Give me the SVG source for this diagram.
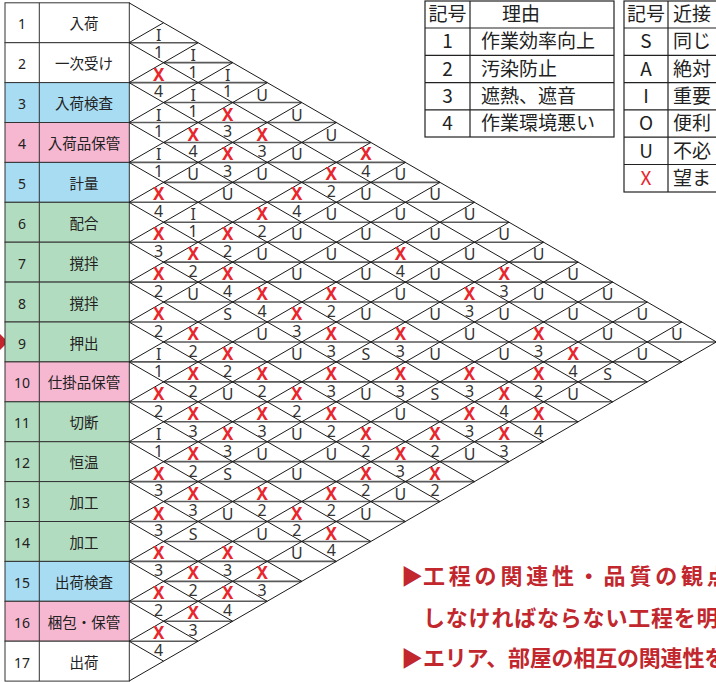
<svg xmlns="http://www.w3.org/2000/svg" width="716" height="682" viewBox="0 0 716 682">
<style>
.bg{fill:#ffffff}
.row{stroke:#333;stroke-width:1}
.w{fill:#ffffff}.b{fill:#a7dcf3}.p{fill:#f6b7d1}.g{fill:#b2dcbf}
.num{font-family:"Noto Sans","Liberation Sans",sans-serif;font-size:14px;fill:#222;text-anchor:middle}
.nm{font-family:"Noto Sans CJK JP","Noto Sans",sans-serif;font-size:14.5px;fill:#222;text-anchor:middle}
.diag{fill:none;stroke:#1a1a1a;stroke-width:1}
.mid{fill:none;stroke:#5a5a5a;stroke-width:1.6}
.t{font-family:"Noto Sans","Liberation Sans",sans-serif;font-size:16px;fill:#333;text-anchor:middle}
.x{font-family:"Noto Sans","Liberation Sans",sans-serif;font-size:17px;font-weight:bold;fill:#e8262d;text-anchor:middle}
.tb{fill:#fff;stroke:#222;stroke-width:1.2}
.lg{font-family:"Noto Sans CJK JP","Noto Sans",sans-serif;font-size:19px;fill:#222}
.lc{text-anchor:middle}
.note{font-family:"Noto Sans CJK JP","Noto Sans",sans-serif;font-size:22px;font-weight:bold;fill:#c1272d}
</style>
<rect class="bg" x="0" y="0" width="716" height="682"/>

<polygon id="marker-row9" points="0,334 8,342 0,350" fill="#c1272d"/>

<g id="labels">
<g id="row1"><rect class="row w" x="5" y="2.8" width="124.3" height="39.9"/><line class="row" x1="39.3" y1="2.8" x2="39.3" y2="42.7"/><text class="num" x="22" y="29.3">1</text><text class="nm" x="84" y="29.3">入荷</text></g>
<g id="row2"><rect class="row w" x="5" y="42.7" width="124.3" height="39.9"/><line class="row" x1="39.3" y1="42.7" x2="39.3" y2="82.6"/><text class="num" x="22" y="69.2">2</text><text class="nm" x="84" y="69.2">一次受け</text></g>
<g id="row3"><rect class="row b" x="5" y="82.6" width="124.3" height="39.9"/><line class="row" x1="39.3" y1="82.6" x2="39.3" y2="122.5"/><text class="num" x="22" y="109.1">3</text><text class="nm" x="84" y="109.1">入荷検査</text></g>
<g id="row4"><rect class="row p" x="5" y="122.5" width="124.3" height="39.9"/><line class="row" x1="39.3" y1="122.5" x2="39.3" y2="162.4"/><text class="num" x="22" y="149">4</text><text class="nm" x="84" y="149">入荷品保管</text></g>
<g id="row5"><rect class="row b" x="5" y="162.4" width="124.3" height="39.9"/><line class="row" x1="39.3" y1="162.4" x2="39.3" y2="202.3"/><text class="num" x="22" y="188.9">5</text><text class="nm" x="84" y="188.9">計量</text></g>
<g id="row6"><rect class="row g" x="5" y="202.3" width="124.3" height="39.9"/><line class="row" x1="39.3" y1="202.3" x2="39.3" y2="242.2"/><text class="num" x="22" y="228.8">6</text><text class="nm" x="84" y="228.8">配合</text></g>
<g id="row7"><rect class="row g" x="5" y="242.2" width="124.3" height="39.9"/><line class="row" x1="39.3" y1="242.2" x2="39.3" y2="282.1"/><text class="num" x="22" y="268.7">7</text><text class="nm" x="84" y="268.7">撹拌</text></g>
<g id="row8"><rect class="row g" x="5" y="282.1" width="124.3" height="39.9"/><line class="row" x1="39.3" y1="282.1" x2="39.3" y2="322"/><text class="num" x="22" y="308.6">8</text><text class="nm" x="84" y="308.6">撹拌</text></g>
<g id="row9"><rect class="row g" x="5" y="322" width="124.3" height="39.9"/><line class="row" x1="39.3" y1="322" x2="39.3" y2="361.9"/><text class="num" x="22" y="348.5">9</text><text class="nm" x="84" y="348.5">押出</text></g>
<g id="row10"><rect class="row p" x="5" y="361.9" width="124.3" height="39.9"/><line class="row" x1="39.3" y1="361.9" x2="39.3" y2="401.8"/><text class="num" x="22" y="388.4">10</text><text class="nm" x="84" y="388.4">仕掛品保管</text></g>
<g id="row11"><rect class="row g" x="5" y="401.8" width="124.3" height="39.9"/><line class="row" x1="39.3" y1="401.8" x2="39.3" y2="441.7"/><text class="num" x="22" y="428.3">11</text><text class="nm" x="84" y="428.3">切断</text></g>
<g id="row12"><rect class="row g" x="5" y="441.7" width="124.3" height="39.9"/><line class="row" x1="39.3" y1="441.7" x2="39.3" y2="481.6"/><text class="num" x="22" y="468.2">12</text><text class="nm" x="84" y="468.2">恒温</text></g>
<g id="row13"><rect class="row g" x="5" y="481.6" width="124.3" height="39.9"/><line class="row" x1="39.3" y1="481.6" x2="39.3" y2="521.5"/><text class="num" x="22" y="508.1">13</text><text class="nm" x="84" y="508.1">加工</text></g>
<g id="row14"><rect class="row g" x="5" y="521.5" width="124.3" height="39.9"/><line class="row" x1="39.3" y1="521.5" x2="39.3" y2="561.4"/><text class="num" x="22" y="548">14</text><text class="nm" x="84" y="548">加工</text></g>
<g id="row15"><rect class="row b" x="5" y="561.4" width="124.3" height="39.9"/><line class="row" x1="39.3" y1="561.4" x2="39.3" y2="601.3"/><text class="num" x="22" y="587.9">15</text><text class="nm" x="84" y="587.9">出荷検査</text></g>
<g id="row16"><rect class="row p" x="5" y="601.3" width="124.3" height="39.9"/><line class="row" x1="39.3" y1="601.3" x2="39.3" y2="641.2"/><text class="num" x="22" y="627.8">16</text><text class="nm" x="84" y="627.8">梱包・保管</text></g>
<g id="row17"><rect class="row w" x="5" y="641.2" width="124.3" height="39.9"/><line class="row" x1="39.3" y1="641.2" x2="39.3" y2="681.1"/><text class="num" x="22" y="667.7">17</text><text class="nm" x="84" y="667.7">出荷</text></g>
</g>

<g id="connectors">
<path class="mid" d="M129 42.7H198.1M163.55 62.65H232.65M129 82.6H267.2M163.55 102.55H301.75M129 122.5H336.3M163.55 142.45H370.85M129 162.4H405.4M163.55 182.35H439.95M129 202.3H474.5M163.55 222.25H509.05M129 242.2H543.6M163.55 262.15H578.15M129 282.1H612.7M163.55 302.05H647.25M129 322H681.8M163.55 341.95H716.35M129 361.9H681.8M163.55 381.85H647.25M129 401.8H612.7M163.55 421.75H578.15M129 441.7H543.6M163.55 461.65H509.05M129 481.6H474.5M163.55 501.55H439.95M129 521.5H405.4M163.55 541.45H370.85M129 561.4H336.3M163.55 581.35H301.75M129 601.3H267.2M163.55 621.25H232.65M129 641.2H198.1"/>
<path class="diag" d="M129 2.8L716.35 341.95M129 42.7L681.8 361.9M129 82.6L647.25 381.85M129 122.5L612.7 401.8M129 162.4L578.15 421.75M129 202.3L543.6 441.7M129 242.2L509.05 461.65M129 282.1L474.5 481.6M129 322L439.95 501.55M129 361.9L405.4 521.5M129 401.8L370.85 541.45M129 441.7L336.3 561.4M129 481.6L301.75 581.35M129 521.5L267.2 601.3M129 561.4L232.65 621.25M129 601.3L198.1 641.2M129 641.2L163.55 661.15"/>
<path class="diag" d="M129 42.7L163.55 22.75M129 82.6L198.1 42.7M129 122.5L232.65 62.65M129 162.4L267.2 82.6M129 202.3L301.75 102.55M129 242.2L336.3 122.5M129 282.1L370.85 142.45M129 322L405.4 162.4M129 361.9L439.95 182.35M129 401.8L474.5 202.3M129 441.7L509.05 222.25M129 481.6L543.6 242.2M129 521.5L578.15 262.15M129 561.4L612.7 282.1M129 601.3L647.25 302.05M129 641.2L681.8 322M129 681.1L716.35 341.95"/>
</g>

<g id="cells">
<text class="t" x="158.6" y="40.7">I</text>
<text class="t" x="158.6" y="57.5">1</text><text class="t" x="193.1" y="60.7">I</text>
<text class="x" x="158.6" y="80.6">X</text><text class="t" x="193.1" y="77.5">1</text><text class="t" x="227.7" y="80.6">I</text>
<text class="t" x="158.6" y="97.4">4</text><text class="t" x="193.1" y="100.6">I</text><text class="t" x="227.7" y="97.4">1</text><text class="t" x="262.2" y="100.6">U</text>
<text class="t" x="158.6" y="120.5">I</text><text class="t" x="193.1" y="117.4">1</text><text class="x" x="227.7" y="120.5">X</text><text class="t" x="296.8" y="120.5">U</text>
<text class="t" x="158.6" y="137.3">1</text><text class="x" x="193.1" y="140.5">X</text><text class="t" x="227.7" y="137.3">3</text><text class="x" x="262.2" y="140.5">X</text><text class="t" x="331.3" y="140.5">U</text>
<text class="t" x="158.6" y="160.4">I</text><text class="t" x="193.1" y="157.3">4</text><text class="x" x="227.7" y="160.4">X</text><text class="t" x="262.2" y="157.3">3</text><text class="t" x="296.8" y="160.4">U</text><text class="x" x="365.9" y="160.4">X</text>
<text class="t" x="158.6" y="177.2">1</text><text class="t" x="193.1" y="180.4">U</text><text class="t" x="227.7" y="177.2">3</text><text class="t" x="262.2" y="180.4">U</text><text class="x" x="331.3" y="180.4">X</text><text class="t" x="365.9" y="177.2">4</text><text class="t" x="400.4" y="180.4">U</text>
<text class="x" x="158.6" y="200.3">X</text><text class="t" x="227.7" y="200.3">U</text><text class="x" x="296.8" y="200.3">X</text><text class="t" x="331.3" y="197.2">2</text><text class="t" x="365.9" y="200.3">U</text><text class="t" x="435" y="200.3">U</text>
<text class="t" x="158.6" y="217.1">4</text><text class="t" x="193.1" y="220.3">I</text><text class="x" x="262.2" y="220.3">X</text><text class="t" x="296.8" y="217.1">4</text><text class="t" x="331.3" y="220.3">U</text><text class="t" x="400.4" y="220.3">U</text><text class="t" x="469.5" y="220.3">U</text>
<text class="x" x="158.6" y="240.2">X</text><text class="t" x="193.1" y="237.1">1</text><text class="x" x="227.7" y="240.2">X</text><text class="t" x="262.2" y="237.1">2</text><text class="t" x="296.8" y="240.2">U</text><text class="t" x="365.9" y="240.2">U</text><text class="t" x="435" y="240.2">U</text><text class="t" x="504.1" y="240.2">U</text>
<text class="t" x="158.6" y="257">3</text><text class="x" x="193.1" y="260.2">X</text><text class="t" x="227.7" y="257">2</text><text class="t" x="262.2" y="260.2">U</text><text class="t" x="331.3" y="260.2">U</text><text class="x" x="400.4" y="260.2">X</text><text class="t" x="469.5" y="260.2">U</text><text class="t" x="538.6" y="260.2">U</text>
<text class="x" x="158.6" y="280.1">X</text><text class="t" x="193.1" y="277">2</text><text class="x" x="227.7" y="280.1">X</text><text class="t" x="296.8" y="280.1">U</text><text class="t" x="365.9" y="280.1">U</text><text class="t" x="400.4" y="277">4</text><text class="t" x="435" y="280.1">U</text><text class="x" x="504.1" y="280.1">X</text><text class="t" x="573.2" y="280.1">U</text>
<text class="t" x="158.6" y="296.9">2</text><text class="t" x="193.1" y="300.1">U</text><text class="t" x="227.7" y="296.9">4</text><text class="x" x="262.2" y="300.1">X</text><text class="x" x="331.3" y="300.1">X</text><text class="t" x="400.4" y="300.1">U</text><text class="x" x="469.5" y="300.1">X</text><text class="t" x="504.1" y="296.9">3</text><text class="t" x="538.6" y="300.1">U</text><text class="t" x="607.7" y="300.1">U</text>
<text class="x" x="158.6" y="320">X</text><text class="t" x="227.7" y="320">S</text><text class="t" x="262.2" y="316.9">4</text><text class="x" x="296.8" y="320">X</text><text class="t" x="331.3" y="316.9">2</text><text class="t" x="365.9" y="320">U</text><text class="t" x="435" y="320">U</text><text class="t" x="469.5" y="316.9">3</text><text class="t" x="504.1" y="320">U</text><text class="t" x="573.2" y="320">U</text><text class="t" x="642.3" y="320">U</text>
<text class="t" x="158.6" y="336.8">2</text><text class="x" x="193.1" y="340">X</text><text class="t" x="262.2" y="340">U</text><text class="t" x="296.8" y="336.8">3</text><text class="x" x="331.3" y="340">X</text><text class="x" x="400.4" y="340">X</text><text class="t" x="469.5" y="340">U</text><text class="x" x="538.6" y="340">X</text><text class="t" x="607.7" y="340">U</text><text class="t" x="676.8" y="340">U</text>
<text class="t" x="158.6" y="359.9">I</text><text class="t" x="193.1" y="356.8">2</text><text class="x" x="227.7" y="359.9">X</text><text class="t" x="296.8" y="359.9">U</text><text class="t" x="331.3" y="356.8">3</text><text class="t" x="365.9" y="359.9">S</text><text class="t" x="400.4" y="356.8">3</text><text class="t" x="435" y="359.9">U</text><text class="t" x="504.1" y="359.9">U</text><text class="t" x="538.6" y="356.8">3</text><text class="x" x="573.2" y="359.9">X</text><text class="t" x="642.3" y="359.9">U</text>
<text class="t" x="158.6" y="376.7">1</text><text class="x" x="193.1" y="379.9">X</text><text class="t" x="227.7" y="376.7">2</text><text class="x" x="262.2" y="379.9">X</text><text class="x" x="331.3" y="379.9">X</text><text class="x" x="400.4" y="379.9">X</text><text class="x" x="469.5" y="379.9">X</text><text class="x" x="538.6" y="379.9">X</text><text class="t" x="573.2" y="376.7">4</text><text class="t" x="607.7" y="379.9">S</text>
<text class="x" x="158.6" y="399.8">X</text><text class="t" x="193.1" y="396.7">2</text><text class="t" x="227.7" y="399.8">U</text><text class="t" x="262.2" y="396.7">2</text><text class="x" x="296.8" y="399.8">X</text><text class="t" x="331.3" y="396.7">3</text><text class="t" x="365.9" y="399.8">U</text><text class="t" x="400.4" y="396.7">3</text><text class="t" x="435" y="399.8">S</text><text class="t" x="469.5" y="396.7">3</text><text class="x" x="504.1" y="399.8">X</text><text class="t" x="538.6" y="396.7">2</text><text class="t" x="573.2" y="399.8">U</text>
<text class="t" x="158.6" y="416.6">2</text><text class="x" x="193.1" y="419.8">X</text><text class="x" x="262.2" y="419.8">X</text><text class="t" x="296.8" y="416.6">2</text><text class="x" x="331.3" y="419.8">X</text><text class="t" x="400.4" y="419.8">U</text><text class="x" x="469.5" y="419.8">X</text><text class="t" x="504.1" y="416.6">4</text><text class="x" x="538.6" y="419.8">X</text>
<text class="t" x="158.6" y="439.7">I</text><text class="t" x="193.1" y="436.6">3</text><text class="x" x="227.7" y="439.7">X</text><text class="t" x="262.2" y="436.6">3</text><text class="t" x="296.8" y="439.7">U</text><text class="t" x="331.3" y="436.6">2</text><text class="x" x="365.9" y="439.7">X</text><text class="x" x="435" y="439.7">X</text><text class="t" x="469.5" y="436.6">3</text><text class="x" x="504.1" y="439.7">X</text><text class="t" x="538.6" y="436.6">4</text>
<text class="t" x="158.6" y="456.5">1</text><text class="x" x="193.1" y="459.7">X</text><text class="t" x="227.7" y="456.5">3</text><text class="t" x="262.2" y="459.7">U</text><text class="t" x="331.3" y="459.7">U</text><text class="t" x="365.9" y="456.5">2</text><text class="x" x="400.4" y="459.7">X</text><text class="t" x="435" y="456.5">2</text><text class="t" x="469.5" y="459.7">U</text><text class="t" x="504.1" y="456.5">3</text>
<text class="x" x="158.6" y="479.6">X</text><text class="t" x="193.1" y="476.5">2</text><text class="t" x="227.7" y="479.6">S</text><text class="t" x="296.8" y="479.6">U</text><text class="x" x="365.9" y="479.6">X</text><text class="t" x="400.4" y="476.5">3</text><text class="x" x="435" y="479.6">X</text>
<text class="t" x="158.6" y="496.4">3</text><text class="x" x="193.1" y="499.6">X</text><text class="x" x="262.2" y="499.6">X</text><text class="x" x="331.3" y="499.6">X</text><text class="t" x="365.9" y="496.4">2</text><text class="t" x="400.4" y="499.6">U</text><text class="t" x="435" y="496.4">2</text>
<text class="x" x="158.6" y="519.5">X</text><text class="t" x="193.1" y="516.4">3</text><text class="t" x="227.7" y="519.5">U</text><text class="t" x="262.2" y="516.4">2</text><text class="x" x="296.8" y="519.5">X</text><text class="t" x="331.3" y="516.4">2</text><text class="t" x="365.9" y="519.5">U</text>
<text class="t" x="158.6" y="536.3">3</text><text class="t" x="193.1" y="539.5">S</text><text class="t" x="262.2" y="539.5">U</text><text class="t" x="296.8" y="536.3">2</text><text class="x" x="331.3" y="539.5">X</text>
<text class="x" x="158.6" y="559.4">X</text><text class="x" x="227.7" y="559.4">X</text><text class="t" x="296.8" y="559.4">U</text><text class="t" x="331.3" y="556.3">4</text>
<text class="t" x="158.6" y="576.2">3</text><text class="x" x="193.1" y="579.4">X</text><text class="t" x="227.7" y="576.2">3</text><text class="x" x="262.2" y="579.4">X</text>
<text class="x" x="158.6" y="599.3">X</text><text class="t" x="193.1" y="596.2">2</text><text class="x" x="227.7" y="599.3">X</text><text class="t" x="262.2" y="596.2">3</text>
<text class="t" x="158.6" y="616.1">2</text><text class="x" x="193.1" y="619.3">X</text><text class="t" x="227.7" y="616.1">4</text>
<text class="x" x="158.6" y="639.2">X</text><text class="t" x="193.1" y="636.1">3</text>
<text class="t" x="158.6" y="656">4</text>
</g>

<g id="legend-reason">
<rect class="tb" x="425" y="1" width="189" height="136"/>
<path d="M470 1V137M425 28H614M425 55.3H614M425 82.6H614M425 109.9H614" stroke="#222" stroke-width="1.2" fill="none"/>
<text class="lg lc" x="447.5" y="21">記号</text><text class="lg" x="502" y="21">理由</text>
<text class="lg lc" x="447.5" y="48.3">1</text><text class="lg" x="481" y="48.3">作業効率向上</text>
<text class="lg lc" x="447.5" y="75.6">2</text><text class="lg" x="481" y="75.6">汚染防止</text>
<text class="lg lc" x="447.5" y="102.9">3</text><text class="lg" x="481" y="102.9">遮熱、遮音</text>
<text class="lg lc" x="447.5" y="130.2">4</text><text class="lg" x="481" y="130.2">作業環境悪い</text>
</g>

<g id="legend-closeness">
<rect class="tb" x="624" y="1" width="100" height="191"/>
<path d="M668 1V192M624 28H720M624 55.3H720M624 82.6H720M624 109.9H720M624 137.2H720M624 164.5H720" stroke="#222" stroke-width="1.2" fill="none"/>
<text class="lg lc" x="646" y="21">記号</text><text class="lg" x="673" y="21">近接</text>
<text class="lg lc" x="646" y="48.3">S</text><text class="lg" x="673" y="48.3">同じ</text>
<text class="lg lc" x="646" y="75.6">A</text><text class="lg" x="673" y="75.6">絶対</text>
<text class="lg lc" x="646" y="102.9">I</text><text class="lg" x="673" y="102.9">重要</text>
<text class="lg lc" x="646" y="130.2">O</text><text class="lg" x="673" y="130.2">便利</text>
<text class="lg lc" x="646" y="157.5">U</text><text class="lg" x="673" y="157.5">不必</text>
<text class="lg lc" x="646" y="184.8" style="fill:#e8262d">X</text><text class="lg" x="673" y="184.8">望ま</text>
</g>

<g id="notes">
<text class="note" x="401" y="583.5">▶</text>
<text class="note" x="423" y="583.5" letter-spacing="3.8">工程の関連性・品質の観点</text>
<text class="note" x="423" y="625.5" letter-spacing="0.8">しなければならない工程を明</text>
<text class="note" x="401" y="665.5">▶</text>
<text class="note" x="423" y="665.5" letter-spacing="-0.2">エリア、部屋の相互の関連性を</text>
</g>
</svg>
